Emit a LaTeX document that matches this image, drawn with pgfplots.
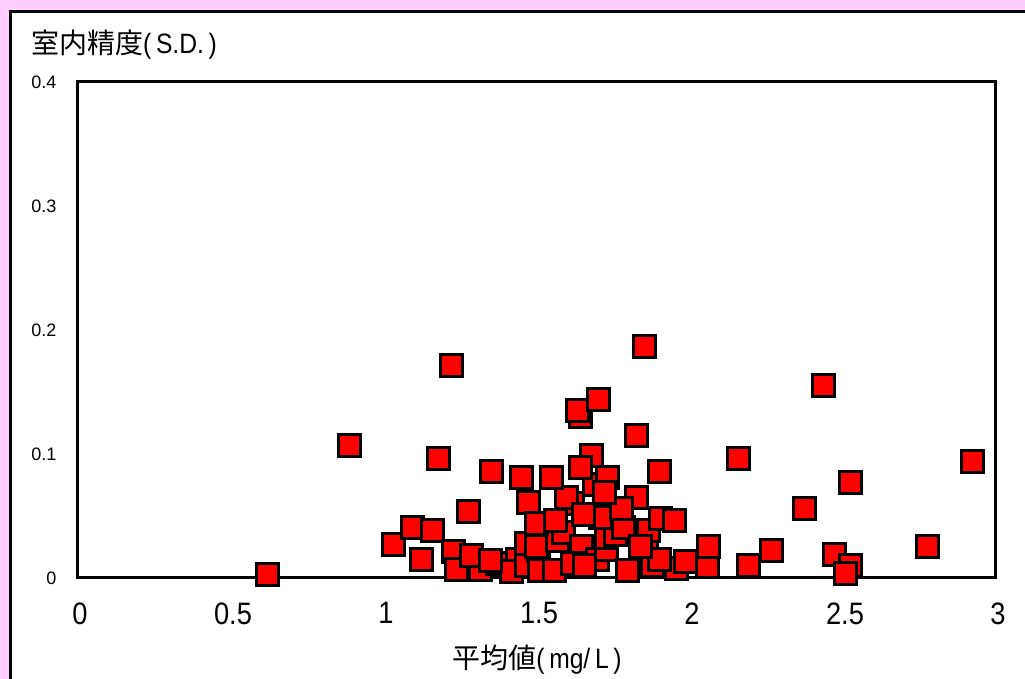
\documentclass[border=0pt]{standalone}
\usepackage{fontspec}
\setmainfont{Liberation Sans}
\newfontfamily\cjk{Noto Sans CJK JP}
\newfontfamily\narrowfont[FakeStretch=0.88]{Liberation Sans}
\usepackage{pgfplots}
\pgfplotsset{compat=1.18}
\definecolor{pinkbg}{RGB}{255,204,255}
\pgfplotstableread{
x y
0.624 0.003
0.892 0.107
1.033 0.027
1.098 0.041
1.163 0.038
1.127 0.015
1.225 0.171
1.180 0.096
1.278 0.054
1.356 0.086
1.230 0.021
1.239 0.007
1.317 0.007
1.290 0.018
1.373 0.012
1.440 0.015
1.420 0.005
1.350 0.014
1.470 0.010
1.470 0.028
1.507 0.023
1.513 0.006
1.503 0.025
1.560 0.006
1.570 0.030
1.590 0.037
1.650 0.025
1.620 0.012
1.700 0.015
1.730 0.023
1.730 0.033
1.800 0.006
1.760 0.035
1.860 0.028
1.880 0.010
1.960 0.008
1.990 0.013
1.905 0.015
2.060 0.009
1.660 0.010
1.620 0.060
1.600 0.065
1.690 0.075
1.785 0.041
1.710 0.049
1.454 0.081
1.549 0.081
1.474 0.061
1.503 0.044
1.565 0.046
1.647 0.130
1.634 0.135
1.703 0.144
1.853 0.187
1.830 0.115
1.680 0.099
1.644 0.089
1.735 0.081
1.905 0.086
1.827 0.065
1.781 0.056
1.654 0.051
1.725 0.069
1.866 0.038
1.908 0.048
1.954 0.046
1.843 0.025
2.065 0.025
2.163 0.096
2.196 0.010
2.271 0.022
2.379 0.056
2.441 0.155
2.529 0.077
2.474 0.019
2.529 0.010
2.510 0.004
2.778 0.025
2.925 0.094
}\datatable
\begin{document}
\begin{tikzpicture}
\useasboundingbox (0pt,0pt) rectangle (1025pt,679pt);
\fill[pinkbg] (0pt,0pt) rectangle (1025pt,679pt);
\filldraw[fill=white, draw=black, line width=3pt] (10pt,-10pt) rectangle (1040pt,667pt);
\begin{axis}[
  at={(77pt,101pt)}, anchor=south west,
  scale only axis, width=918pt, height=496pt,
  xmin=0, xmax=3, ymin=0, ymax=0.4,
  xtick={0,0.5,1,1.5,2,2.5,3},
  ytick={0,0.1,0.2,0.3,0.4},
  major tick length=0pt,
  axis line style={line width=3pt, black},
  /pgf/number format/assume math mode=true,
  /pgf/number format/fixed,
  xticklabel style={font=\narrowfont\fontsize{31}{31}\selectfont, yshift=-21pt, xshift=3pt},
  yticklabel style={font=\fontsize{18}{18}\selectfont, xshift=-17pt},
  clip=true,
]
\addplot[only marks, mark=square*, mark size=11pt,
  mark options={fill=red, draw=black, line width=3pt}] table[x=x,y=y] {\datatable};
\end{axis}
\node[anchor=west, inner sep=0pt] at (31pt,634pt) {\cjk\fontsize{28}{28}\selectfont 室内精度\narrowfont(\,S.D.\,)};
\node[inner sep=0pt] at (537pt,19pt) {\cjk\fontsize{28}{28}\selectfont 平均値\narrowfont(\,mg/\,L\,)};
\end{tikzpicture}
\end{document}
